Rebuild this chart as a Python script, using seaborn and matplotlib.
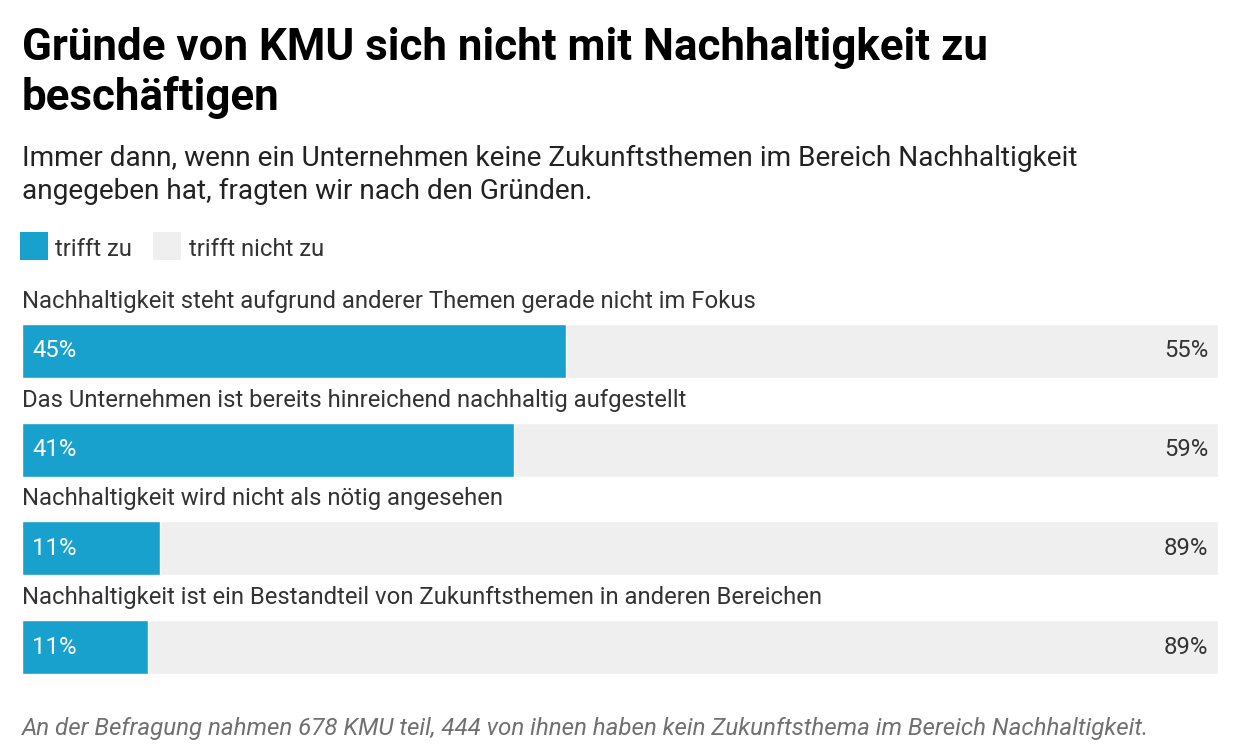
import matplotlib.pyplot as plt
import pandas as pd
import seaborn as sns
from matplotlib.lines import Line2D

# Data
categories = [
    'Nachhaltigkeit steht aufgrund anderer Themen gerade nicht im Fokus',
    'Das Unternehmen ist bereits hinreichend nachhaltig aufgestellt',
    'Nachhaltigkeit wird nicht als nötig angesehen',
    'Nachhaltigkeit ist ein Bestandteil von Zukunftsthemen in anderen Bereichen',
]
trifft_zu = [45.5, 41.1, 11.5, 10.5]
trifft_nicht_zu = [54.5, 58.9, 88.5, 89.5]
labels_zu = ['45%', '41%', '11%', '11%']
labels_nicht = ['55%', '59%', '89%', '89%']

BLUE = '#18a1cd'
GRAY = '#efefef'
TEXT = '#333333'
FS = 17.2

df = pd.DataFrame({
    'reason': categories,
    'zu': trifft_zu,
    'total': [a + b for a, b in zip(trifft_zu, trifft_nicht_zu)],
})

sns.set_theme(style='white')
plt.rcParams['font.family'] = ['Roboto', 'DejaVu Sans']

fig = plt.figure(figsize=(12.4, 7.54), dpi=100)
ax = fig.add_axes([22 / 1240, 1 - 674 / 754, 1196 / 1240, 350 / 754])

bw = 0.547
sns.barplot(data=df, x='total', y='reason', color=GRAY, width=bw,
            saturation=1, ax=ax, orient='h')
sns.barplot(data=df, x='zu', y='reason', color=BLUE, width=bw,
            saturation=1, ax=ax, orient='h')

ax.set_xlim(0, 100)
ax.set_ylim(len(categories) - 1 + bw / 2, -bw / 2)
ax.axis('off')

for i, cat in enumerate(categories):
    ax.annotate(cat, xy=(0, i - bw / 2), xytext=(0, 11.5), textcoords='offset points',
                ha='left', va='baseline', fontsize=FS, color=TEXT)
    ax.annotate(labels_zu[i], xy=(0, i), xytext=(7.5, 0), textcoords='offset points',
                ha='left', va='center', fontsize=FS, color='white')
    ax.annotate(labels_nicht[i], xy=(100, i), xytext=(-7, 0), textcoords='offset points',
                ha='right', va='center', fontsize=FS, color=TEXT)

# Header (va='baseline' aligns the last line)
fig.text(22 / 1240, 1 - 110 / 754,
         'Gründe von KMU sich nicht mit Nachhaltigkeit zu\nbeschäftigen',
         ha='left', va='baseline', fontsize=31.6, fontweight='bold', color='#000000',
         linespacing=1.2)
fig.text(22 / 1240, 1 - 199 / 754,
         'Immer dann, wenn ein Unternehmen keine Zukunftsthemen im Bereich Nachhaltigkeit\n'
         'angegeben hat, fragten wir nach den Gründen.',
         ha='left', va='baseline', fontsize=20.2, color='#222222', linespacing=1.28)

handles = [Line2D([], [], marker='s', linestyle='none', markersize=20,
                  markerfacecolor=c, markeredgewidth=0, label=l)
           for c, l in [(BLUE, 'trifft zu'), (GRAY, 'trifft nicht zu')]]
fig.legend(handles=handles, loc='upper left', bbox_to_anchor=(20 / 1240, 1 - 235.5 / 754),
           ncol=2, frameon=False, fontsize=FS, handlelength=1.17, handleheight=1.17,
           handletextpad=0.3, columnspacing=0.9, borderaxespad=0, borderpad=0,
           labelcolor=TEXT)

fig.text(22 / 1240, 1 - 735 / 754,
         'An der Befragung nahmen 678 KMU teil, 444 von ihnen haben kein Zukunftsthema '
         'im Bereich Nachhaltigkeit.',
         ha='left', va='baseline', fontsize=17.4, style='italic', color='#707070')

fig.savefig('out.png', dpi=100)
